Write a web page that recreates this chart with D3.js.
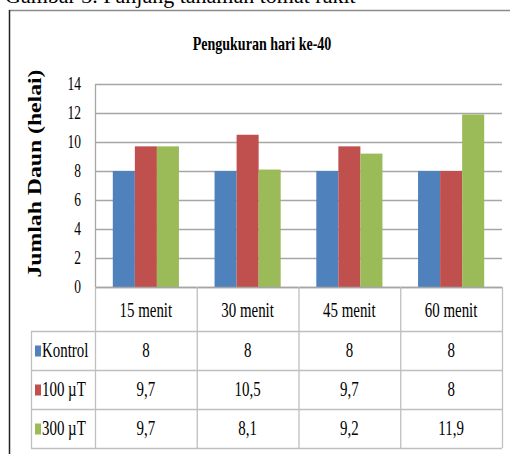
<!DOCTYPE html>
<html>
<head>
<meta charset="utf-8">
<script src="https://cdn.jsdelivr.net/npm/d3@7"></script>
<style>
  body { margin: 0; background: #fff; }
  text { font-family: 'Liberation Serif', 'Times New Roman', serif; fill: #000; }
</style>
</head>
<body>
<div id="chart"></div>
<script>
const categories = ['15 menit', '30 menit', '45 menit', '60 menit']
const seriesNames = ['Kontrol', '100 µT', '300 µT']
const kontrol = [8, 8, 8, 8]
const uT100 = [9.7, 10.5, 9.7, 8]
const uT300 = [9.7, 8.1, 9.2, 11.9]
const yTicks = [0, 2, 4, 6, 8, 10, 12, 14]

const colors = ['#4F81BD', '#C0504D', '#9BBB59']
const seriesValues = [kontrol, uT100, uT300]

const width = 510
const height = 454
const plot = { left: 95, right: 502, top: 84, bottom: 287 }
const headerH = 44
const rowH = 39
const legendLeft = 31
const sx = 0.71 // narrow text look

const svg = d3
  .select('#chart')
  .append('svg')
  .attr('width', width)
  .attr('height', height)

const comma = d3.formatLocale({ decimal: ',', thousands: '.', grouping: [3], currency: ['', ''] }).format('')

// helper for squeezed text
function label(g, txt, x, y, size, anchor, weight, squeeze) {
  return g
    .append('text')
    .attr('transform', 'translate(' + x + ',' + y + ') scale(' + (squeeze || sx) + ',1)')
    .attr('text-anchor', anchor || 'middle')
    .attr('dominant-baseline', 'central')
    .attr('font-size', size)
    .attr('font-weight', weight || 'normal')
    .text(txt)
}

// caption cut at top
svg
  .append('text')
  .attr('x', 5)
  .attr('y', 3)
  .attr('font-size', 22)
  .text('Gambar 3. Panjang tanaman tomat rakit')

// frame
svg.append('line').attr('x1', 9).attr('x2', width).attr('y1', 10.5).attr('y2', 10.5).attr('stroke', '#8c8c8c').attr('stroke-width', 1.5)
svg.append('line').attr('x1', 9.5).attr('x2', 9.5).attr('y1', 10).attr('y2', height).attr('stroke', '#222').attr('stroke-width', 1.5)

// scales
const x0 = d3.scaleBand().domain(categories).range([plot.left, plot.right]).paddingInner(0).paddingOuter(0)
const groupW = x0.bandwidth() * 0.65
const x1 = d3.scaleBand().domain(d3.range(seriesNames.length)).range([0, groupW])
const y = d3.scaleLinear().domain([0, 14]).range([plot.bottom, plot.top])

// gridlines
svg
  .append('g')
  .selectAll('line')
  .data(yTicks)
  .enter()
  .append('line')
  .attr('x1', plot.left)
  .attr('x2', plot.right)
  .attr('y1', d => Math.round(y(d)) + 0.5)
  .attr('y2', d => Math.round(y(d)) + 0.5)
  .attr('stroke', '#a6a6a6')
  .attr('stroke-width', 1.3)

svg.append('line')
  .attr('x1', plot.left + 0.5).attr('x2', plot.left + 0.5)
  .attr('y1', plot.top).attr('y2', plot.bottom)
  .attr('stroke', '#a6a6a6').attr('stroke-width', 1.3)

// y tick labels
const yAxisG = svg.append('g')
yTicks.forEach(t => label(yAxisG, t, 81, y(t), 19, 'end'))

// y axis title
svg
  .append('text')
  .attr('transform', 'translate(41,' + ((plot.top + plot.bottom) / 2 - 12) + ') rotate(-90)')
  .attr('text-anchor', 'middle')
  .attr('font-size', 19)
  .attr('font-weight', 'bold')
  .attr('textLength', 208)
  .attr('lengthAdjust', 'spacingAndGlyphs')
  .text('Jumlah Daun (helai)')

// chart title
label(svg, 'Pengukuran hari ke-40', 262, 44, 18, 'middle', 'bold', 0.78)

// bars
seriesValues.forEach((vals, si) => {
  svg
    .append('g')
    .selectAll('rect')
    .data(vals)
    .enter()
    .append('rect')
    .attr('x', (d, i) => x0(categories[i]) + (x0.bandwidth() - groupW) / 2 + x1(si))
    .attr('y', d => y(d))
    .attr('width', x1.bandwidth())
    .attr('height', d => y(0) - y(d))
    .attr('fill', colors[si])
})

// data table
const tableTop = plot.bottom
const rowsTop = tableTop + headerH
const tableBottom = rowsTop + rowH * seriesNames.length
const gridColor = '#bfbfbf'
const tbl = svg.append('g')

// horizontal lines
tbl.append('line').attr('x1', plot.left).attr('x2', plot.right).attr('y1', tableTop + 0.5).attr('y2', tableTop + 0.5).attr('stroke', '#a6a6a6').attr('stroke-width', 1.3)
d3.range(seriesNames.length + 1).forEach(r => {
  tbl.append('line')
    .attr('x1', legendLeft).attr('x2', plot.right)
    .attr('y1', rowsTop + r * rowH + 0.5).attr('y2', rowsTop + r * rowH + 0.5)
    .attr('stroke', gridColor).attr('stroke-width', 1.3)
})

// vertical lines
const vx = categories.map(c => x0(c)).concat([plot.right])
vx.forEach(v => {
  tbl.append('line')
    .attr('x1', v + 0.5).attr('x2', v + 0.5)
    .attr('y1', tableTop).attr('y2', tableBottom)
    .attr('stroke', gridColor).attr('stroke-width', 1.3)
})
tbl.append('line')
  .attr('x1', legendLeft + 0.5).attr('x2', legendLeft + 0.5)
  .attr('y1', rowsTop).attr('y2', tableBottom)
  .attr('stroke', gridColor).attr('stroke-width', 1.3)

// header labels
categories.forEach(c => label(tbl, c, x0(c) + x0.bandwidth() / 2, tableTop + headerH / 2 + 1, 21))

// rows
seriesNames.forEach((s, si) => {
  const cy = rowsTop + si * rowH + rowH / 2
  tbl.append('rect').attr('x', 35).attr('y', cy - 5).attr('width', 6).attr('height', 11).attr('fill', colors[si])
  label(tbl, s, 42, cy, 21, 'start')
  seriesValues[si].forEach((v, i) => {
    label(tbl, comma(v), x0(categories[i]) + x0.bandwidth() / 2, cy, 21)
  })
})
</script>
</body>
</html>
